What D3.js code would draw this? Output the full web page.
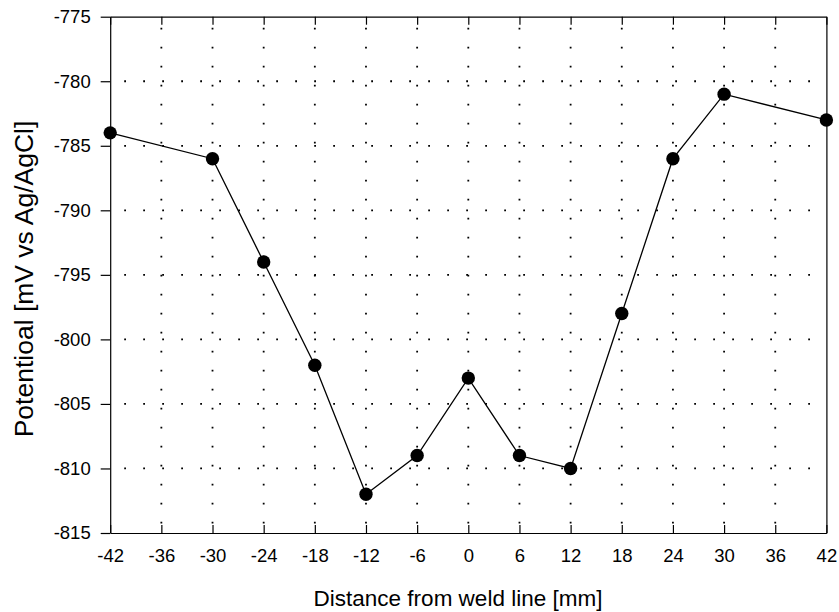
<!DOCTYPE html>
<html>
<head>
<meta charset="utf-8">
<script src="https://cdn.jsdelivr.net/npm/d3@7"></script>
<style>
  body { margin: 0; background: #fff; }
  text { font-family: "Liberation Sans", Arial, sans-serif; }
</style>
</head>
<body>
<div id="chart"></div>
<script>
const distance = [-42, -30, -24, -18, -12, -6, 0, 6, 12, 18, 24, 30, 42];
const potential = [-784, -786, -794, -802, -812, -809, -803, -809, -810, -798, -786, -781, -783];
const xTicks = [-42, -36, -30, -24, -18, -12, -6, 0, 6, 12, 18, 24, 30, 36, 42];
const yTicks = [-815, -810, -805, -800, -795, -790, -785, -780, -775];

const WIDTH = 839;
const HEIGHT = 612;
const margin = { top: 16.7, right: 12.6, bottom: 79, left: 110.2 };

const svg = d3.select("#chart")
    .append("svg")
        .attr("width", WIDTH)
        .attr("height", HEIGHT)

const x = d3.scaleLinear()
    .domain([-42, 42])
    .range([margin.left, WIDTH - margin.right])

const y = d3.scaleLinear()
    .domain([-815, -775])
    .range([HEIGHT - margin.bottom, margin.top])

// dotted grid
const grid = svg.append("g")
    .attr("stroke", "#000")
    .attr("stroke-width", 1.8)
    .attr("stroke-dasharray", "1.8,17.2")

grid.selectAll(".vgrid")
    .data(xTicks.slice(1, -1))
    .enter()
    .append("line")
        .attr("x1", d => x(d))
        .attr("x2", d => x(d))
        .attr("y1", y(-775))
        .attr("y2", y(-815))
        .attr("stroke-dashoffset", 8)

grid.selectAll(".hgrid")
    .data(yTicks.slice(1, -1))
    .enter()
    .append("line")
        .attr("x1", x(-42))
        .attr("x2", x(42))
        .attr("y1", d => y(d))
        .attr("y2", d => y(d))
        .attr("stroke-dashoffset", 5)

// axes
const fmt = d => String(d).replace("\u2212", "-")

svg.append("g")
    .attr("transform", `translate(0,${y(-815)})`)
    .call(d3.axisBottom(x).tickValues(xTicks).tickSize(-8).tickSizeOuter(0).tickPadding(15.5).tickFormat(fmt))

svg.append("g")
    .attr("transform", `translate(0,${y(-775)})`)
    .call(d3.axisTop(x).tickValues(xTicks).tickSize(-8).tickSizeOuter(0).tickFormat(""))

svg.append("g")
    .attr("transform", `translate(${x(-42)},0)`)
    .call(d3.axisLeft(y).tickValues(yTicks).tickSize(9.5).tickSizeOuter(0).tickPadding(10).tickFormat(fmt))

svg.append("g")
    .attr("transform", `translate(${x(42)},0)`)
    .call(d3.axisRight(y).tickValues([]).tickSizeOuter(0))

svg.selectAll(".tick text")
    .attr("font-size", 18.5)
    .attr("fill", "#000")
    .attr("font-family", "Liberation Sans, Arial, sans-serif")

svg.selectAll(".domain, .tick line")
    .attr("stroke", "#000")
    .attr("stroke-width", 1.2)

// line and markers
const line = d3.line()
    .x((d, i) => x(distance[i]))
    .y(d => y(d))

svg.append("path")
    .datum(potential)
    .attr("d", line)
    .attr("fill", "none")
    .attr("stroke", "#000")
    .attr("stroke-width", 1.3)

svg.selectAll(".pt")
    .data(potential)
    .enter()
    .append("circle")
        .attr("cx", (d, i) => x(distance[i]))
        .attr("cy", d => y(d))
        .attr("r", 6.7)
        .attr("fill", "#000")

// titles
svg.append("text")
    .attr("x", 458)
    .attr("y", 606)
    .attr("text-anchor", "middle")
    .attr("font-size", 22.5)
    .text("Distance from weld line [mm]")

svg.append("text")
    .attr("transform", `translate(33,279) rotate(-90)`)
    .attr("text-anchor", "middle")
    .attr("font-size", 26.5)
    .text("Potentioal [mV vs Ag/AgCl]")
</script>
</body>
</html>
